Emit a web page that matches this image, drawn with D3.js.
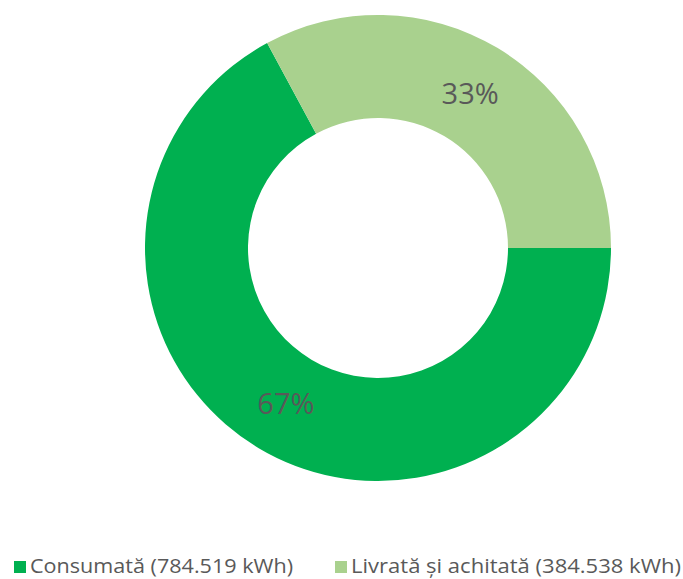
<!DOCTYPE html>
<html>
<head>
<meta charset="utf-8">
<script src="https://cdn.jsdelivr.net/npm/d3@7"></script>
<style>
  body { margin: 0; background: #fff; }
  text { font-family: "Open Sans", sans-serif; fill: #595959; }
</style>
</head>
<body>
<script>
// Datos del gráfico
var categorias = ["Consumată (784.519 kWh)", "Livrată și achitată (384.538 kWh)"];
var valores = [784.519, 384.538];
var etiquetas = ["67%", "33%"];
var colores = ["#00b050", "#a9d18e"];

var w = 683;
var h = 579;
var cx = 378, cy = 248;
var rOut = 233, rIn = 130;

var svg = d3.select("body")
    .append("svg")
        .attr("width", w)
        .attr("height", h);

// La primera porción empieza a las 3 en punto (como en Excel)
var pie = d3.pie()
    .sort(null)
    .startAngle(Math.PI / 2)
    .endAngle(Math.PI / 2 + 2 * Math.PI);

var arc = d3.arc().innerRadius(rIn).outerRadius(rOut);
var arcLabel = d3.arc().innerRadius(180).outerRadius(180);

var g = svg.append("g").attr("transform", "translate(" + cx + "," + cy + ")");

var arcs = pie(valores);

g.selectAll("path")
    .data(arcs)
    .enter()
        .append("path")
        .attr("d", arc)
        .attr("fill", function(d, i) { return colores[i]; });

g.selectAll("text.lbl")
    .data(arcs)
    .enter()
        .append("text")
        .attr("class", "lbl")
        .attr("x", function(d) { return arcLabel.centroid(d)[0]; })
        .attr("y", function(d) { return arcLabel.centroid(d)[1] + 11; })
        .attr("text-anchor", "middle")
        .style("font-size", "29px")
        .text(function(d, i) { return etiquetas[i]; });

// Leyenda
var legX = [14, 335];
var leg = svg.selectAll("g.leg")
    .data(categorias)
    .enter()
        .append("g")
        .attr("class", "leg")
        .attr("transform", function(d, i) { return "translate(" + legX[i] + ",561)"; });

leg.append("rect")
    .attr("width", 12)
    .attr("height", 12)
    .attr("fill", function(d, i) { return colores[i]; });

leg.append("text")
    .attr("x", 16)
    .attr("y", 12)
    .style("font-size", "20px")
    .attr("textLength", function(d, i) { return i === 0 ? 263 : 330; })
    .attr("lengthAdjust", "spacingAndGlyphs")
    .text(function(d) { return d; });
</script>
</body>
</html>
